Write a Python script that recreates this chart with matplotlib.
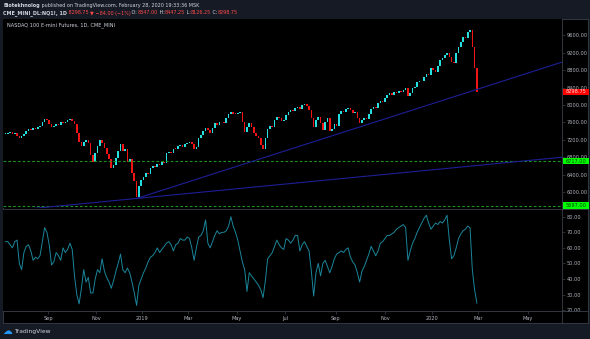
import numpy as np
import pandas as pd
import matplotlib
matplotlib.use('Agg')
import matplotlib.pyplot as plt
from matplotlib.lines import Line2D
from matplotlib.patches import Rectangle

# 나스닥100 E-mini 선물 (NQ1!) 2거래일 간격 종가, 2020-02-28 까지
closes = [
    7340, 7370, 7390, 7330, 7350, 7290, 7240, 7280, 7330, 7400,
    7440, 7420, 7470, 7450, 7490, 7530, 7600, 7670, 7650, 7560,
    7490, 7530, 7570, 7550, 7610, 7580, 7620, 7650, 7690, 7640,
    7560, 7350, 7150, 7060, 7160, 7210, 7120, 6850, 6700, 6900,
    7050, 7190, 7120, 7020, 6880, 6760, 6560, 6620, 6790, 6950,
    7100, 6950, 6990, 6700, 6760, 6450, 6250, 5890, 6150, 6280,
    6340, 6450, 6420, 6560, 6610, 6590, 6660, 6630, 6690, 6670,
    6900, 6930, 6900, 7000, 6990, 7050, 7080, 7040, 7110, 7120,
    7150, 7100, 7000, 7030, 7250, 7320, 7410, 7480, 7420, 7360,
    7480, 7580, 7540, 7600, 7620, 7590, 7700, 7790, 7830, 7800,
    7790, 7820, 7830, 7600, 7380, 7500, 7580, 7490, 7350, 7290,
    7240, 7080, 7000, 7250, 7460, 7520, 7490, 7660, 7720, 7700,
    7630, 7660, 7780, 7850, 7880, 7860, 7930, 7950, 7920, 7990,
    8030, 7970, 7880, 7700, 7500, 7650, 7720, 7580, 7430, 7600,
    7700, 7400, 7450, 7560, 7530, 7800, 7870, 7840, 7900, 7930,
    7880, 7810, 7840, 7700, 7580, 7650, 7700, 7680, 7800, 7900,
    7950, 7930, 8040, 8100, 8080, 8150, 8220, 8270, 8240, 8300,
    8280, 8310, 8300, 8350, 8380, 8200, 8270, 8380, 8420, 8520,
    8560, 8540, 8650, 8700, 8680, 8850, 8800, 8750, 8900, 9030,
    9080, 9150, 9190, 9100, 8990, 8960, 9200, 9330, 9450, 9560,
    9540, 9680, 9720, 9330, 8850, 8298.75,
]

# RSI 값 (같은 간격)
rsi = [
    64, 64, 62, 60, 64, 65, 50, 46, 57, 61,
    62, 58, 52, 54, 53, 55, 64, 73, 70, 62,
    49, 51, 57, 55, 52, 60, 57, 59, 63, 59,
    42, 30, 24, 34, 46, 38, 41, 31, 31, 40,
    46, 44, 53, 45, 41, 38, 34, 39, 45, 50,
    56, 46, 44, 47, 44, 38, 31, 23, 36, 40,
    44, 47, 51, 54, 55, 57, 60, 57, 59, 61,
    63, 64, 62, 58, 62, 63, 66, 65, 65, 67,
    66, 60, 52, 60, 67, 68, 71, 78, 63, 60,
    64, 68, 71, 69, 70, 70, 71, 74, 80, 74,
    70, 65, 58, 51, 46, 32, 44, 42, 40, 38,
    36, 33, 28, 39, 53, 55, 57, 61, 65, 62,
    60, 59, 66, 65, 63, 65, 68, 68, 58, 62,
    64, 61, 58, 45, 29, 44, 50, 42, 50, 52,
    48, 44, 48, 53, 56, 57, 58, 57, 59, 60,
    54, 51, 49, 44, 38, 45, 48, 52, 56, 61,
    58, 55, 58, 63, 64, 66, 68, 68, 69, 70,
    72, 73, 74, 75, 73, 52, 58, 63, 66, 70,
    73, 76, 79, 81, 76, 72, 74, 76, 75, 77,
    76, 78, 81, 65, 53, 55, 60, 66, 69, 71,
    72, 74, 73, 46, 33, 24.5,
]

last_date = '2020-02-28'
last_price = 8298.75
support_levels = [6717.00, 5697.00]

# 추세선: 2018-12-24 저점에서 출발
trend_start = ('2018-12-24', 5860)
trend_fast_end = ('2020-02-28', 8358)
trend_slow_end = ('2020-02-28', 6615)

price_ticks = [6000, 6400, 6800, 7200, 7600, 8000, 8400, 8800, 9200, 9600]
rsi_ticks = [20, 30, 40, 50, 60, 70, 80]
month_starts = ['2018-09-01', '2018-11-01', '2019-01-01', '2019-03-01', '2019-05-01',
                '2019-07-01', '2019-09-01', '2019-11-01', '2020-01-01', '2020-03-01',
                '2020-05-01']
month_labels = ['Sep', 'Nov', '2019', 'Mar', 'May', 'Jul', 'Sep', 'Nov', '2020', 'Mar', 'May']

holidays = ['2018-07-04', '2018-09-03', '2018-11-22', '2018-12-05', '2018-12-25',
            '2019-01-01', '2019-01-21', '2019-02-18', '2019-04-19', '2019-05-27',
            '2019-07-04', '2019-09-02', '2019-11-28', '2019-12-25', '2020-01-01',
            '2020-01-20', '2020-02-17', '2020-04-10', '2020-05-25']

# 색상
BG = '#161a25'
PANE = '#000000'
SEP = '#3b3f4a'
TXT = '#b2b5be'
UP = '#26e0e0'
DOWN = '#f01414'
TREND = '#1e1e96'

W, H = 590, 339


def fx(x):
    return x / W


def fy(y):
    return 1 - y / H


# 거래일 기준 x축
cbd = pd.offsets.CustomBusinessDay(holidays=holidays)
days = pd.date_range('2018-06-01', '2020-07-31', freq=cbd)


def bar_of(d):
    return int(days.searchsorted(pd.Timestamp(d)))


closes = np.array(closes, dtype=float)
rsi = np.array(rsi, dtype=float)
last_i = bar_of(last_date)
step = 2
xs = last_i - step * (len(closes) - 1) + step * np.arange(len(closes))

fig = plt.figure(figsize=(W / 100, H / 100), dpi=100)
fig.patch.set_facecolor(BG)

# 차트 패널 배경
fig.add_artist(Rectangle((fx(3), fy(323)), fx(585), 304 / H, transform=fig.transFigure,
                         facecolor=PANE, edgecolor=SEP, linewidth=0.6, zorder=0))

ax = fig.add_axes([fx(3), fy(208.5), fx(559), 189.5 / H])
ax2 = fig.add_axes([fx(3), fy(311), fx(559), 102 / H], sharex=ax)

for a in (ax, ax2):
    a.set_facecolor(PANE)
    for s in a.spines.values():
        s.set_visible(False)
    a.yaxis.tick_right()
    a.tick_params(axis='y', colors=SEP, labelcolor=TXT, labelsize=3.6, length=2,
                  width=0.5, pad=1.5)

# 캔들 (시가 = 직전 종가)
opens = np.r_[closes[0], closes[:-1]]
up = closes >= opens
body = np.maximum(np.abs(closes - opens), 18)
bottoms = np.minimum(opens, closes)
ax.bar(xs, body, bottom=bottoms, width=1.4, color=np.where(up, UP, DOWN), linewidth=0)

ax.set_xlim(last_i - 412.2, last_i + 74)
ax.set_ylim(5630, 9970)
ax.set_yticks(price_ticks)
ax.set_yticklabels([f'{v:.2f}' for v in price_ticks])
ax.tick_params(axis='x', bottom=False, labelbottom=False)

# 지지선
for lv in support_levels:
    ax.axhline(lv, color='#1f8f1f', lw=0.8, ls=(0, (2.5, 1.8)))

# 추세선
x0, y0 = bar_of(trend_start[0]), trend_start[1]
xf, yf = bar_of(trend_fast_end[0]), trend_fast_end[1]
xsl, ysl = bar_of(trend_slow_end[0]), trend_slow_end[1]
x_end = last_i + 80
ax.plot([x0, x_end], [y0, y0 + (yf - y0) / (xf - x0) * (x_end - x0)], color=TREND, lw=0.8)
ax.axline((x0, y0), (xsl, ysl), color=TREND, lw=0.8)

ax.text(4 / 559, 1 - 6 / 189.5, 'NASDAQ 100 E-mini Futures, 1D, CME_MINI',
        transform=ax.transAxes, color='#d1d4dc', fontsize=3.6, va='center', ha='left')

# RSI
ax2.plot(xs, rsi, color='#1b869b', lw=0.7)
ax2.set_ylim(19.4, 85)
ax2.set_yticks(rsi_ticks)
ax2.set_yticklabels([f'{v:.2f}' for v in rsi_ticks])
ax2.set_xticks([bar_of(d) for d in month_starts])
ax2.set_xticklabels(month_labels)
ax2.tick_params(axis='x', colors=SEP, labelcolor=TXT, labelsize=3.6, length=2,
                width=0.5, pad=1.5)

# 구분선
fig.add_artist(Line2D([fx(562), fx(562)], [fy(19), fy(323)], transform=fig.transFigure,
                      color=SEP, lw=0.6))
for yy in (208.7, 311):
    fig.add_artist(Line2D([fx(3), fx(588)], [fy(yy), fy(yy)], transform=fig.transFigure,
                          color=SEP, lw=0.6))

# 가격 축 라벨 박스
fig.canvas.draw()
r = fig.canvas.get_renderer()


def price_tag(v, fc, tc):
    ypix = ax.transData.transform((0, v))[1]
    fig.add_artist(Rectangle((fx(562.5), (ypix - 3.4) / H), fx(26), 6.8 / H,
                             transform=fig.transFigure, facecolor=fc, edgecolor='none',
                             zorder=5))
    fig.text(fx(566), ypix / H, f'{v:.2f}', color=tc, fontsize=3.6, va='center',
             ha='left', zorder=6)


price_tag(last_price, '#ff0000', '#ffe0e0')
for lv in support_levels:
    price_tag(lv, '#00ff00', '#0a3a0a')


def put_line(segments, x, y, size):
    for s, c, w in segments:
        t = fig.text(x, y, s, color=c, fontsize=size, fontweight=w, va='center', ha='left')
        x = t.get_window_extent(r).x1 / fig.bbox.width


WHITE = '#d1d4dc'
RED = '#ff4a4a'
put_line([('Biotekhnolog', WHITE, 'bold'),
          (' published on TradingView.com, February 28, 2020 19:33:36 MSK', WHITE, 'normal')],
         fx(3), fy(6), 3.5)
put_line([('CME_MINI_DL:NQ1!, 1D', WHITE, 'bold'),
          (' 8298.75 ', RED, 'normal'), ('▼', RED, 'normal'),
          (' \u221284.00 (\u22121%)', RED, 'normal'),
          (' O:', WHITE, 'normal'), ('8347.00', RED, 'normal'),
          (' H:', WHITE, 'normal'), ('8447.25', RED, 'normal'),
          (' L:', WHITE, 'normal'), ('8126.25', RED, 'normal'),
          (' C:', WHITE, 'normal'), ('8298.75', RED, 'normal')],
         fx(3), fy(13), 3.5)

# 하단 로고
fig.text(fx(2.5), fy(331), '\u2601', color='#2196f3', fontsize=7, va='center', ha='left')
fig.text(fx(14), fy(331), 'TradingView', color=WHITE, fontsize=4.3, va='center', ha='left')

fig.savefig('out.png', dpi=100, facecolor=BG)
